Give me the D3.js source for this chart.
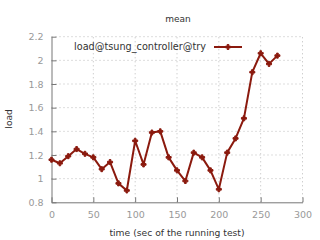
<!DOCTYPE html>
<html><head><meta charset="utf-8">
<script src="https://cdn.jsdelivr.net/npm/d3@7"></script>
<style>
html,body{margin:0;padding:0;background:#fff;}
svg{display:block;font-family:"DejaVu Sans",sans-serif;}
</style></head>
<body>
<svg id="c" width="320" height="240"></svg>
<script>
const times = [0,10,20,30,40,50,60,70,80,90,100,110,120,130,140,150,160,170,180,190,200,210,220,230,240,250,260,270];
const loads = [1.16,1.13,1.19,1.25,1.21,1.18,1.08,1.14,0.96,0.90,1.32,1.12,1.39,1.40,1.18,1.07,0.98,1.22,1.18,1.07,0.91,1.22,1.34,1.51,1.90,2.06,1.97,2.04];
const xTicks = [0,50,100,150,200,250,300];
const yTicks = [0.8,1,1.2,1.4,1.6,1.8,2,2.2];
const seriesName = "load@tsung_controller@try";
const title = "mean";
const xLabel = "time (sec of the running test)";
const yLabel = "load";

const svg = d3.select("#c");
const x = d3.scaleLinear().domain([0,300]).range([51.5,302.5]);
const y = d3.scaleLinear().domain([0.8,2.2]).range([202.3,36.7]);
const color = "#8b1a0e";

// grid
const g = svg.append("g");
g.selectAll(".vg").data(xTicks.slice(1)).enter().append("line")
  .attr("x1",d=>x(d)).attr("x2",d=>x(d)).attr("y1",y(0.8)).attr("y2",y(2.2))
  .attr("stroke","#bbb").attr("stroke-width",1).attr("stroke-dasharray","1,3");
g.selectAll(".hg").data(yTicks.slice(1)).enter().append("line")
  .attr("x1",x(0)).attr("x2",x(300)).attr("y1",d=>y(d)).attr("y2",d=>y(d))
  .attr("stroke","#bbb").attr("stroke-width",1).attr("stroke-dasharray","1,3");

// axes
const xAxis = d3.axisBottom(x).tickValues(xTicks).tickSizeInner(-5).tickSizeOuter(0).tickPadding(9).tickFormat(d3.format("d"));
const yAxis = d3.axisLeft(y).tickValues(yTicks).tickSizeInner(-5).tickSizeOuter(0).tickPadding(8).tickFormat(d=>String(+d.toFixed(1)));
const gx = svg.append("g").attr("transform",`translate(0,${y(0.8)})`).call(xAxis);
const gy = svg.append("g").attr("transform",`translate(${x(0)},0)`).call(yAxis);
[gx,gy].forEach(a=>{
  a.select(".domain").attr("stroke","#777").attr("stroke-width",1);
  a.selectAll(".tick line").attr("stroke","#777");
  a.selectAll(".tick text").attr("fill","#999").style("font-size","9.5px").style("font-family","DejaVu Sans");
});

// line
const data = times.map((t,i)=>({t,v:loads[i]}));
svg.append("path").datum(data)
  .attr("d",d3.line().x(d=>x(d.t)).y(d=>y(d.v)))
  .attr("fill","none").attr("stroke",color).attr("stroke-width",2).attr("stroke-linejoin","round");
const plus = d3.symbol().type(d3.symbolCross).size(14);
svg.selectAll(".pt").data(data).enter().append("path")
  .attr("d",plus).attr("transform",d=>`translate(${x(d.t)},${y(d.v)})`)
  .attr("fill",color).attr("stroke",color).attr("stroke-width",1);

// title & labels
svg.append("text").attr("x",178).attr("y",22).attr("text-anchor","middle")
  .attr("fill","#333").style("font-size","9px").text(title);
svg.append("text").attr("x",177).attr("y",236).attr("text-anchor","middle")
  .attr("fill","#333").style("font-size","9.2px").text(xLabel);
svg.append("text").attr("transform","translate(12,119) rotate(-90)").attr("text-anchor","middle")
  .attr("fill","#333").style("font-size","9px").text(yLabel);

// legend
svg.append("text").attr("x",206).attr("y",50).attr("text-anchor","end")
  .attr("fill","#333").style("font-size","9.7px").text(seriesName);
svg.append("line").attr("x1",214).attr("x2",242).attr("y1",47).attr("y2",47)
  .attr("stroke",color).attr("stroke-width",2);
svg.append("path").attr("d",plus).attr("transform","translate(228,47)")
  .attr("fill",color).attr("stroke",color).attr("stroke-width",1);
</script>
</body></html>
